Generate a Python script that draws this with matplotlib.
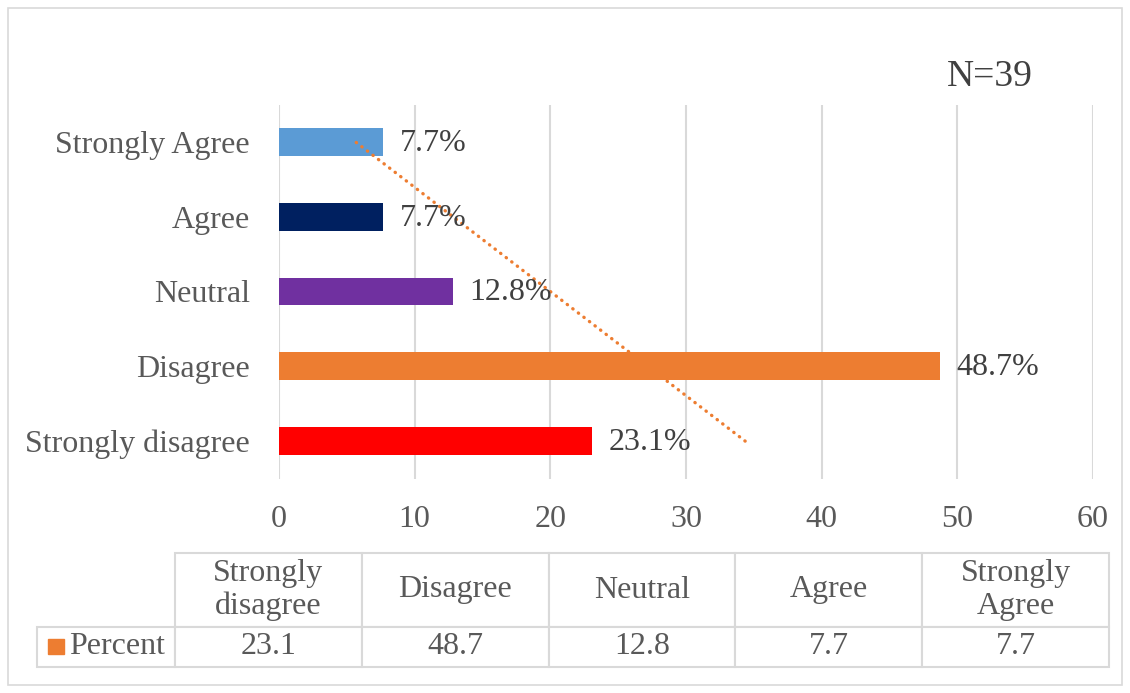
import numpy as np
import matplotlib
matplotlib.use("Agg")
import matplotlib.pyplot as plt
import matplotlib.patches as mpatches
from matplotlib.table import Table

plt.rcParams["font.family"] = ["Liberation Serif", "DejaVu Serif"]

W, H = 1130, 693
FONT_SIZE = 23
TEXT_COLOR = "#595959"
LABEL_COLOR = "#404040"
GRID_COLOR = "#D9D9D9"

# data (bottom to top as drawn)
categories = ["Strongly disagree", "Disagree", "Neutral", "Agree", "Strongly Agree"]
table_headers = ["Strongly\ndisagree", "Disagree", "Neutral", "Agree", "Strongly\nAgree"]
percent = [23.1, 48.7, 12.8, 7.7, 7.7]
bar_colors = ["#FF0000", "#ED7D31", "#7030A0", "#002060", "#5B9BD5"]
series_name = "Percent"
n_label = "N=39"
x_ticks = [0, 10, 20, 30, 40, 50, 60]

fig = plt.figure(figsize=(W / 100, H / 100), dpi=100)

# outer chart border
fig.patches.append(mpatches.Rectangle((8 / W, 8 / H), 1 - 16 / W, 1 - 16 / H,
                                      transform=fig.transFigure, fill=False,
                                      edgecolor=GRID_COLOR, linewidth=1.2))

ax = fig.add_axes([279 / W, 1 - 478.5 / H, (1093 - 279) / W, 374 / H])
y = np.arange(len(categories))
ax.barh(y, percent, height=0.37, color=bar_colors, zorder=3)

for yi, v in zip(y, percent):
    ax.annotate(f"{v}%", (v, yi), xytext=(12, -1), textcoords="offset points",
                va="center", ha="left", fontsize=FONT_SIZE, color=LABEL_COLOR, zorder=5)

# linear trendline
slope, intercept = np.polyfit(y + 1, percent, 1)
trend = slope * (y + 1) + intercept
ax.plot(trend, y, color="#ED7D31", linewidth=2.4, linestyle=(0, (0.1, 2.0)),
        dash_capstyle="round", zorder=4)

ax.set_xlim(0, 60)
ax.set_ylim(-0.5, 4.5)
ax.set_xticks(x_ticks)
ax.set_yticks(y)
ax.set_yticklabels(categories)
ax.tick_params(axis="both", length=0, labelsize=FONT_SIZE, labelcolor=TEXT_COLOR)
ax.tick_params(axis="x", pad=19)
ax.tick_params(axis="y", pad=21)
ax.grid(axis="x", color=GRID_COLOR, linewidth=1.5, zorder=0)
for s in ax.spines.values():
    s.set_visible(False)

fig.text(990 / W, 1 - 77 / H, n_label, fontsize=27, color=LABEL_COLOR,
         ha="center", va="center")

# data table
tax = fig.add_axes([37 / W, 1 - 667 / H, (1109 - 37) / W, (667 - 553) / H])
tax.axis("off")
tab = Table(tax, bbox=[0, 0, 1, 1])
label_w, col_w = 138, 186.8
head_h, row_h = 74, 40
for j, hdr in enumerate(table_headers):
    tab.add_cell(0, j + 1, col_w, head_h, text=hdr, loc="center")
for j, v in enumerate(percent):
    tab.add_cell(1, j + 1, col_w, row_h, text=f"{v}", loc="center")
tab.add_cell(1, 0, label_w, row_h, text=series_name, loc="right")
tab.auto_set_font_size(False)
tab.set_fontsize(FONT_SIZE)
for cell in tab.get_celld().values():
    cell.set_edgecolor(GRID_COLOR)
    cell.set_linewidth(1.5)
    cell.get_text().set_color(TEXT_COLOR)
    cell.get_text().set_linespacing(1.15)
tab[1, 0].PAD = 0.07
tax.add_table(tab)
tax.add_patch(mpatches.Rectangle((11 / 1072, 13 / 114), 16 / 1072, 15 / 114,
                                 color="#ED7D31", transform=tax.transAxes, zorder=6))

fig.savefig("out.png", dpi=100)
